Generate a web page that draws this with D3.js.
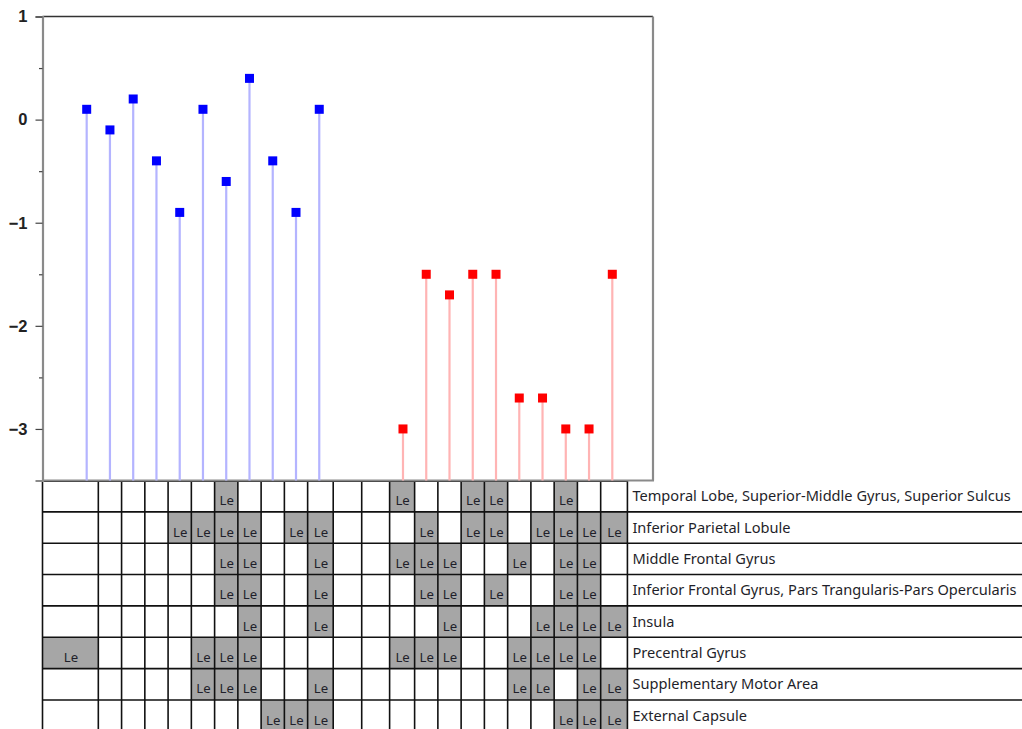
<!DOCTYPE html>
<html>
<head>
<meta charset="utf-8">
<script src="https://cdn.jsdelivr.net/npm/d3@7/dist/d3.min.js"></script>
<style>
html,body{margin:0;padding:0;background:#fff;}
svg{display:block;}
</style>
</head>
<body>
<svg id="chart" width="1022" height="729"></svg>
<script>
// ---- data ----
const blueX = [1, 2, 3, 4, 5, 6, 7, 8, 9, 10, 11];
const blueY = [0.1, -0.1, 0.2, -0.4, -0.9, 0.1, -0.6, 0.4, -0.4, -0.9, 0.1];
const redX = [14.6, 15.6, 16.6, 17.6, 18.6, 19.6, 20.6, 21.6, 22.6, 23.6];
const redY = [-3.0, -1.5, -1.7, -1.5, -1.5, -2.7, -2.7, -3.0, -3.0, -1.5];
const gapX = [12.2, 13.45];           // two empty table columns between the groups
const yTicks = [1, 0, -1, -2, -3];
const yMinorTicks = [0.5, -0.5, -1.5, -2.5];
const regions = [
  "Temporal Lobe, Superior-Middle Gyrus, Superior Sulcus",
  "Inferior Parietal Lobule",
  "Middle Frontal Gyrus",
  "Inferior Frontal Gyrus, Pars Trangularis-Pars Opercularis",
  "Insula",
  "Precentral Gyrus",
  "Supplementary Motor Area",
  "External Capsule"
];
// table column indices (0..22) marked "Le" for each region
const regionCols = [
  [6, 13, 16, 17, 20],
  [4, 5, 6, 7, 9, 10, 14, 16, 17, 19, 20, 21, 22],
  [6, 7, 10, 13, 14, 15, 18, 20, 21],
  [6, 7, 10, 14, 15, 17, 20, 21],
  [7, 10, 15, 19, 20, 21, 22],
  [0, 5, 6, 7, 13, 14, 15, 18, 19, 20, 21],
  [5, 6, 7, 10, 18, 19, 21, 22],
  [8, 9, 10, 20, 21, 22]
];
const cellLabel = "Le";

// ---- layout ----
const W = 1022, H = 729;
const plot = {left: 42.5, right: 653, top: 16.5, bottom: 480.5};
const svg = d3.select("#chart");

const x = d3.scaleLinear().domain([-0.9, 25.35]).range([plot.left, plot.right]);
const y = d3.scaleLinear().domain([-3.5, 1]).range([plot.bottom, plot.top]);

// table columns
const centers = blueX.concat(gapX, redX);
const edges = [x.domain()[0]];
for (let i = 0; i < centers.length - 1; i++) edges.push((centers[i] + centers[i + 1]) / 2);
edges.push(centers[centers.length - 1] + 0.65);
const edgePx = edges.map(e => x(e));
const tableRight = W;
const labelLeft = edgePx[edgePx.length - 1];

const rowH = 31.35;
const rowScale = d3.scaleBand().domain(regions).range([480.5, 480.5 + regions.length * rowH]);

// ---- table ----
const table = svg.append("g");
// shaded cells
regions.forEach((r, ri) => {
  regionCols[ri].forEach(c => {
    const x0 = edgePx[c], x1 = edgePx[c + 1];
    table.append("rect")
      .attr("x", x0).attr("y", rowScale(r))
      .attr("width", x1 - x0).attr("height", rowScale.bandwidth())
      .attr("fill", "#a6a6a6");
    table.append("text")
      .attr("x", (x0 + x1) / 2 + 0.5)
      .attr("y", rowScale(r) + rowScale.bandwidth() - 6.5)
      .attr("text-anchor", "middle")
      .attr("font-family", "Noto Sans, sans-serif")
      .attr("font-size", 13.2)
      .attr("fill", "#1f1f2a")
      .text(cellLabel);
  });
});
const tableBottom = 480.5 + regions.length * rowH;
const lineStyle = sel => sel.attr("stroke", "#111").attr("stroke-width", 1.6);
// vertical lines
edgePx.forEach(px => {
  table.append("line").attr("x1", px).attr("x2", px)
    .attr("y1", 480.5).attr("y2", tableBottom).call(lineStyle);
});
// top line (cells only)
table.append("line").attr("x1", edgePx[0]).attr("x2", labelLeft)
  .attr("y1", 481.3).attr("y2", 481.3).call(lineStyle);
// row bottom lines
regions.forEach(r => {
  const yy = rowScale(r) + rowScale.bandwidth();
  table.append("line").attr("x1", edgePx[0]).attr("x2", tableRight)
    .attr("y1", yy).attr("y2", yy).call(lineStyle);
});
// region labels
regions.forEach(r => {
  table.append("text")
    .attr("x", labelLeft + 5)
    .attr("y", rowScale(r) + rowScale.bandwidth() / 2 + 5)
    .attr("font-family", "Noto Sans, sans-serif")
    .attr("font-size", 14.6)
    .attr("fill", "#1f1f2a")
    .text(r);
});

// ---- plot ----
const g = svg.append("g");
// frame
g.append("line").attr("x1", plot.left).attr("x2", plot.right)
  .attr("y1", plot.top).attr("y2", plot.top)
  .attr("stroke", "#333").attr("stroke-width", 1.3);
g.append("line").attr("x1", plot.right).attr("x2", plot.right)
  .attr("y1", plot.top).attr("y2", plot.bottom)
  .attr("stroke", "#8a8a8a").attr("stroke-width", 2.2);
g.append("line").attr("x1", plot.left).attr("x2", plot.right + 1)
  .attr("y1", plot.bottom).attr("y2", plot.bottom)
  .attr("stroke", "#8a8a8a").attr("stroke-width", 2.2);

// y axis
const yAxis = d3.axisLeft(y).tickValues(yTicks).tickSize(7).tickPadding(8)
  .tickFormat(d => d3.format("d")(d).replace("-", "\u2212"));
const ya = g.append("g").attr("transform", `translate(${plot.left},0)`).call(yAxis);
ya.select(".domain").attr("stroke", "#8a8a8a").attr("stroke-width", 2.2);
ya.selectAll(".tick line").attr("stroke", "#444").attr("stroke-width", 1.2);
ya.selectAll(".tick text").attr("font-family", "Liberation Sans, Arial, sans-serif")
  .attr("font-size", 16.5).attr("font-weight", "bold").attr("fill", "#222");
const yMinor = d3.axisLeft(y).tickValues(yMinorTicks).tickSize(3.5).tickFormat("");
const ym = g.append("g").attr("transform", `translate(${plot.left},0)`).call(yMinor);
ym.select(".domain").remove();
ym.selectAll(".tick line").attr("stroke", "#444").attr("stroke-width", 1.2);

// stems + markers
function series(xs, ys, stemColor, markColor) {
  const data = xs.map((v, i) => ({x: v, y: ys[i]}));
  g.append("g").selectAll("line").data(data).join("line")
    .attr("x1", d => x(d.x)).attr("x2", d => x(d.x))
    .attr("y1", y(-3.5)).attr("y2", d => y(d.y))
    .attr("stroke", stemColor).attr("stroke-width", 2.2);
  const s = 9;
  g.append("g").selectAll("rect").data(data).join("rect")
    .attr("x", d => x(d.x) - s / 2).attr("y", d => y(d.y) - s / 2)
    .attr("width", s).attr("height", s)
    .attr("fill", markColor);
}
series(blueX, blueY, "#b4b4ff", "#0000ff");
series(redX, redY, "#ffb4b4", "#ff0000");
</script>
</body>
</html>
